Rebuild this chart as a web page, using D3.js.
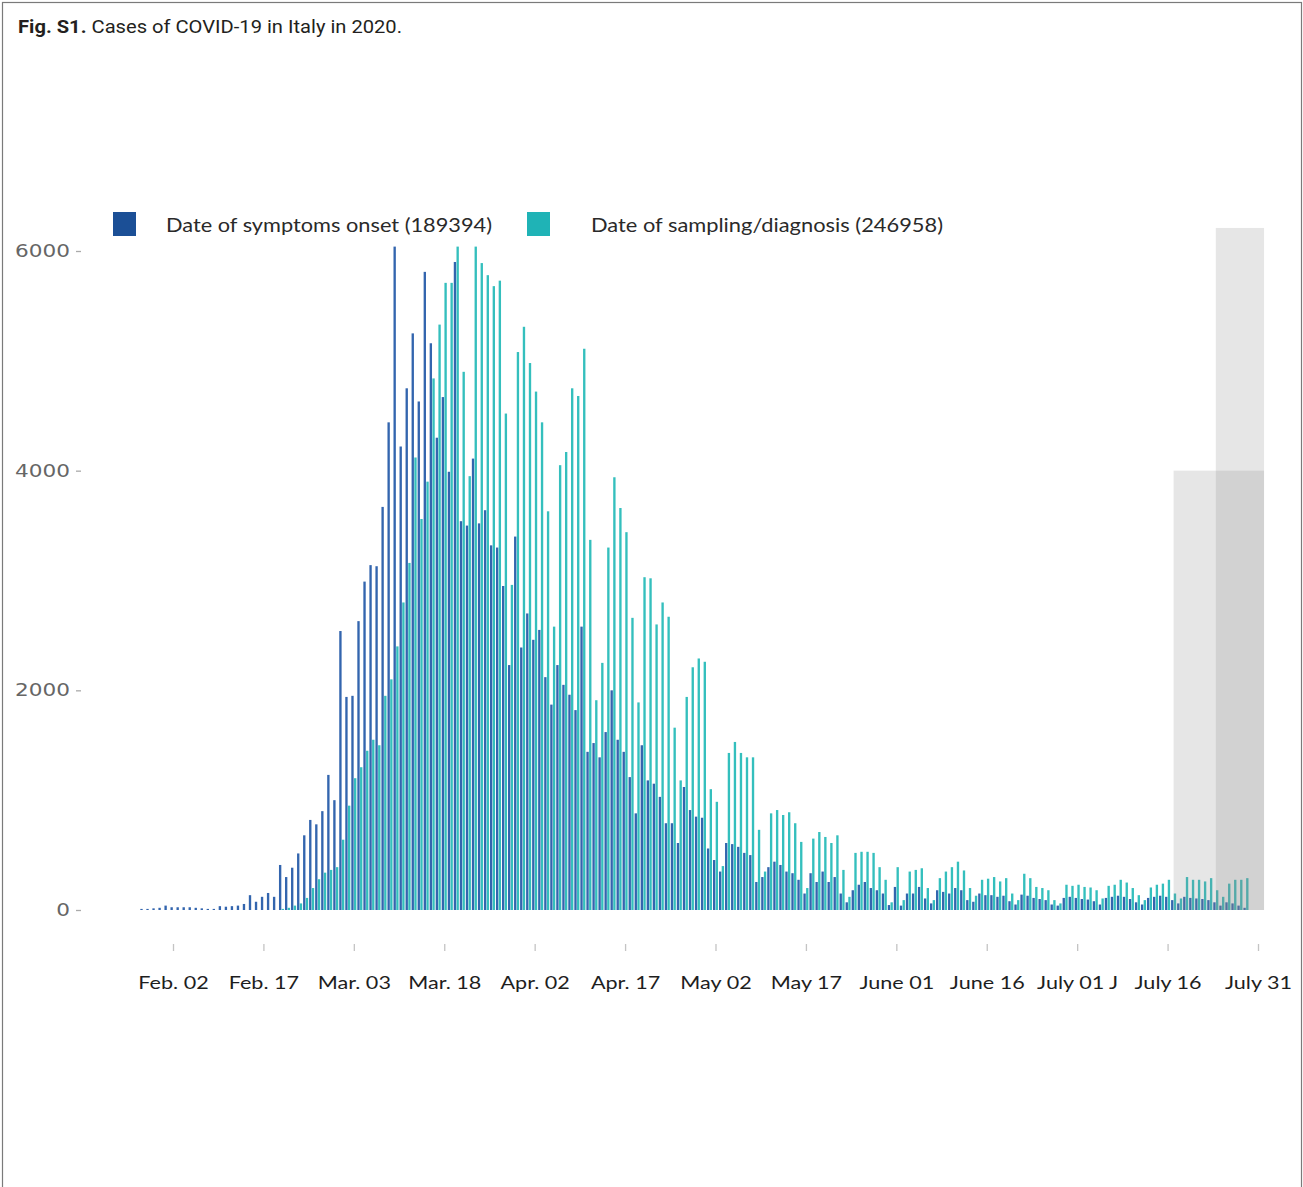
<!DOCTYPE html>
<html>
<head>
<meta charset="utf-8">
<script src="https://cdn.jsdelivr.net/npm/d3@7"></script>
<style>
  body { margin: 0; background: #fff; }
  svg { display: block; }
</style>
</head>
<body>
<svg id="chart" width="1303" height="1187"></svg>
<script>
// Daily COVID-19 cases in Italy, 2020, by date of symptom onset and by date of sampling/diagnosis.
// Series start on 28 January 2020; one value per day, split by month.
const firstDay = Date.UTC(2020, 0, 28);

const onsetJan = [10, 10, 15, 20];
const onsetFeb = [40, 25, 25, 25, 25, 20, 15, 10, 10, 35, 30, 35, 40, 55, 135, 75, 120, 155, 120, 410,
                  300, 385, 515, 680, 820, 780, 900, 1230, 1000];
const onsetMar = [2540, 1940, 1950, 2630, 2990, 3140, 3130, 3670, 4440, 6040, 4220, 4750, 5250, 4630, 5810, 5160,
                  4300, 4670, 3990, 5900, 3540, 3500, 4110, 3520, 3640, 3320, 3300, 2950, 2230, 3400, 2390];
const onsetApr = [2700, 2460, 2550, 2120, 1870, 2230, 2050, 1960, 1820, 2580, 1440, 1520, 1390, 1620, 2000,
                  1550, 1440, 1210, 880, 1500, 1180, 1150, 1030, 790, 790, 610, 1120, 910, 850, 840];
const onsetMay = [560, 455, 350, 610, 600, 575, 520, 500, 255, 300, 390, 440, 410, 350, 335, 275, 150, 335,
                  255, 350, 255, 300, 150, 70, 180, 230, 255, 200, 180, 150, 45];
const onsetJun = [210, 40, 150, 150, 210, 105, 60, 180, 165, 150, 200, 180, 90, 75, 150, 135, 135, 120, 130,
                  80, 50, 140, 130, 110, 100, 90, 50, 40, 110, 120];
const onsetJul = [110, 100, 95, 80, 50, 110, 120, 130, 120, 100, 70, 50, 110, 120, 130, 120, 90, 60, 120,
                  110, 105, 100, 90, 70, 40, 70, 60, 40, 20];

const diagJan = [0, 0, 0, 0];
const diagFeb = [0, 0, 0, 0, 0, 0, 0, 0, 0, 0, 0, 0, 0, 0, 0, 0, 0, 0, 0, 10,
                 20, 40, 60, 110, 200, 280, 340, 365, 390];
const diagMar = [640, 950, 1200, 1300, 1450, 1550, 1500, 1950, 2100, 2400, 2800, 3160, 4120, 3560, 3900, 4840,
                 5330, 5710, 5710, 6040, 4900, 3950, 6040, 5890, 5780, 5680, 5730, 4520, 2960, 5080, 5310];
const diagApr = [4980, 4720, 4440, 3630, 2580, 4050, 4170, 4750, 4680, 5110, 3370, 1910, 2250, 3300, 3940,
                 3660, 3440, 2660, 1890, 3030, 3020, 2600, 2800, 2670, 1660, 1180, 1940, 2210, 2290, 2260];
const diagMay = [1100, 985, 400, 1430, 1530, 1430, 1390, 1390, 730, 350, 880, 910, 865, 890, 790, 620, 200,
                 650, 710, 665, 610, 680, 365, 120, 520, 530, 530, 520, 390, 275, 70];
const diagJun = [390, 90, 350, 365, 380, 200, 90, 290, 350, 390, 440, 360, 200, 130, 275, 285, 300, 260, 290,
                 150, 90, 330, 290, 210, 200, 180, 90, 60, 230, 220];
const diagJul = [230, 210, 205, 180, 105, 220, 230, 275, 250, 200, 135, 90, 205, 230, 240, 275, 150, 105, 300,
                 275, 275, 260, 290, 180, 120, 240, 275, 275, 290];

const onset = [].concat(onsetJan, onsetFeb, onsetMar, onsetApr, onsetMay, onsetJun, onsetJul);
const diagnosis = [].concat(diagJan, diagFeb, diagMar, diagApr, diagMay, diagJun, diagJul);

const seriesNames = ["Date of symptoms onset (189394)", "Date of sampling/diagnosis (246958)"];
const seriesColors = ["#3365ae", "#34bfbd"];
const legendColors = ["#1b4f96", "#1fb3b6"];

// Axis ticks
const tickDates = ["2020-02-02", "2020-02-17", "2020-03-03", "2020-03-18", "2020-04-02", "2020-04-17",
                   "2020-05-02", "2020-05-17", "2020-06-01", "2020-06-16", "2020-07-01", "2020-07-16", "2020-07-31"];
const tickLabels = ["Feb. 02", "Feb. 17", "Mar. 03", "Mar. 18", "Apr. 02", "Apr. 17", "May 02", "May 17",
                    "June 01", "June 16", "July 01 J", "July 16", "July 31"];
const yTicks = [0, 2000, 4000, 6000];

// Shaded periods at the end of the series (possibly incomplete reporting)
const shadeFrom = ["2020-07-17", "2020-07-24"];
const shadeTo = ["2020-08-01", "2020-08-01"];
const shadeTop = [4000, 6210];

const svg = d3.select("#chart");
const W = 1303, H = 1187;

svg.append("rect").attr("width", W).attr("height", H).attr("fill", "#fff");
svg.append("rect").attr("x", 2.5).attr("y", 2.5).attr("width", W - 4).attr("height", H + 20)
  .attr("fill", "none").attr("stroke", "#7a7a7a").attr("stroke-width", 1.2);

// Title
const title = svg.append("text").attr("x", 18).attr("y", 33)
  .attr("font-family", "Roboto, 'Liberation Sans', sans-serif").attr("font-size", 18).attr("fill", "#231f20");
title.append("tspan").attr("font-weight", "bold").text("Fig. S1.");
title.append("tspan").text(" Cases of COVID-19 in Italy in 2020.");
title.attr("textLength", 384).attr("lengthAdjust", "spacingAndGlyphs");

const x = d3.scaleUtc().domain([Date.UTC(2020, 1, 2), Date.UTC(2020, 6, 31)]).range([173, 1258]);
const y = d3.scaleLinear().domain([0, 6000]).range([910, 251]);

const dayMs = 86400000;
const days = onset.map((v, i) => new Date(firstDay + i * dayMs));
const dayW = x(new Date(Date.UTC(2020, 1, 3))) - x(new Date(Date.UTC(2020, 1, 2)));

const rows = days.map((d, i) => ({ date: d, onset: onset[i], diagnosis: diagnosis[i] }));

function stretch(sel, k) {
  sel.each(function () {
    const n = this.getComputedTextLength();
    d3.select(this).attr("textLength", n * k).attr("lengthAdjust", "spacingAndGlyphs");
  });
}

// Bars: onset on the left half of each day, diagnosis on the right half
const bars = svg.append("g");
bars.selectAll("rect.onset").data(rows.filter(r => r.onset > 0)).join("rect")
  .attr("class", "onset")
  .attr("x", d => x(d.date) - dayW * 0.42)
  .attr("width", dayW * 0.39)
  .attr("y", d => y(d.onset))
  .attr("height", d => y(0) - y(d.onset))
  .attr("fill", seriesColors[0]);
bars.selectAll("rect.diag").data(rows.filter(r => r.diagnosis > 0)).join("rect")
  .attr("class", "diag")
  .attr("x", d => x(d.date) + dayW * 0.03)
  .attr("width", dayW * 0.39)
  .attr("y", d => y(d.diagnosis))
  .attr("height", d => y(0) - y(d.diagnosis))
  .attr("fill", seriesColors[1]);

// Shaded periods
svg.append("g").selectAll("rect").data(shadeFrom.map((f, i) => ({ from: new Date(f), to: new Date(shadeTo[i]), top: shadeTop[i] })))
  .join("rect")
  .attr("x", d => x(d.from))
  .attr("width", d => x(d.to) - x(d.from))
  .attr("y", d => y(d.top))
  .attr("height", d => y(0) - y(d.top))
  .attr("fill", "#8a8a8a")
  .attr("fill-opacity", 0.21);

// X axis
const xAxis = d3.axisBottom(x)
  .tickValues(tickDates.map(s => new Date(s)))
  .tickFormat((d, i) => tickLabels[i])
  .tickSize(7)
  .tickPadding(26);
const gx = svg.append("g").attr("transform", "translate(0,944)").call(xAxis);
gx.select(".domain").remove();
gx.selectAll(".tick line").attr("stroke", "#c4c4c4").attr("stroke-width", 1.3);
gx.selectAll(".tick text")
  .attr("font-family", "Lato, 'Open Sans', sans-serif")
  .attr("font-size", 17)
  .attr("fill", "#1e1e1e")
  .call(stretch, 1.27);

// Y axis
const yAxis = d3.axisLeft(y).tickValues(yTicks).tickSize(5).tickPadding(6).tickFormat(d3.format("d"));
const gy = svg.append("g").attr("transform", "translate(81,0)").call(yAxis);
gy.select(".domain").remove();
gy.selectAll(".tick line").attr("stroke", "#aaaaaa").attr("stroke-width", 1.3);
gy.selectAll(".tick text")
  .attr("font-family", "'DejaVu Sans', Verdana, sans-serif")
  .attr("font-size", 17)
  .attr("fill", "#666")
  .call(stretch, 1.27);

// Legend
const legendX = [113, 527];
const legendTextX = [166, 591];
const legendTextLen = [326, 352];
const legend = svg.append("g");
seriesNames.forEach((name, i) => {
  legend.append("rect").attr("x", legendX[i]).attr("y", 212).attr("width", 23).attr("height", 24)
    .attr("fill", legendColors[i]);
  legend.append("text").attr("x", legendTextX[i]).attr("y", 232)
    .attr("font-family", "Lato, 'Open Sans', sans-serif").attr("font-size", 19).attr("fill", "#2a2a2a")
    .attr("textLength", legendTextLen[i]).attr("lengthAdjust", "spacingAndGlyphs")
    .text(name);
});
</script>
</body>
</html>
